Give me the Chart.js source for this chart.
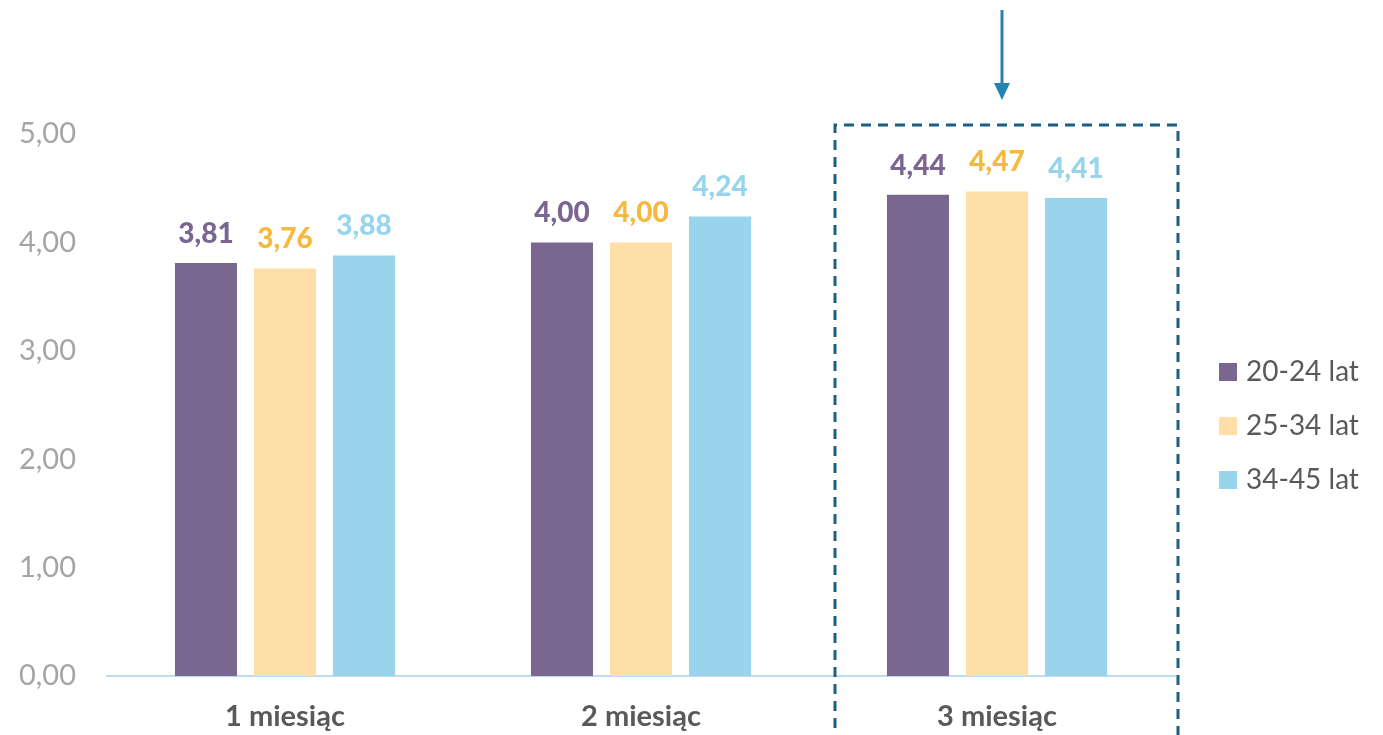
<!DOCTYPE html>
<html>
<head>
<meta charset="utf-8">
<script src="https://cdn.jsdelivr.net/npm/chart.js@4"></script>
<style>
  html, body { margin: 0; padding: 0; background: #fff; }
  #wrap { width: 1383px; height: 735px; position: relative; }
</style>
</head>
<body>
<div id="wrap"><canvas id="chart"></canvas></div>
<script>
// Chart data
const categories = ['1 miesiąc', '2 miesiąc', '3 miesiąc'];
const seriesNames = ['20-24 lat', '25-34 lat', '34-45 lat'];
const age20to24 = [3.81, 4.00, 4.44];
const age25to34 = [3.76, 4.00, 4.47];
const age34to45 = [3.88, 4.24, 4.41];
const yTicks = [0, 1, 2, 3, 4, 5];

const FONT = 'Lato, "Open Sans", sans-serif';
const barColors = ['#79678f', '#fddfa7', '#98d4ec'];
const labelColors = ['#7a6690', '#f5b940', '#98d4ec'];
const fmt = v => v.toFixed(2).replace('.', ',');

// Value labels above bars
const valueLabels = {
    id: 'valueLabels',
    afterDatasetsDraw(chart) {
        const ctx = chart.ctx;
        ctx.save();
        ctx.font = '900 28px ' + FONT;
        ctx.textAlign = 'center';
        ctx.textBaseline = 'alphabetic';
        chart.data.datasets.forEach((ds, i) => {
            chart.getDatasetMeta(i).data.forEach((bar, j) => {
                ctx.fillStyle = labelColors[i];
                ctx.fillText(fmt(ds.data[j]), bar.x, bar.y - 20);
            });
        });
        ctx.restore();
    }
};

// Highlight box around the last category, arrow and legend
const extras = {
    id: 'extras',
    afterDraw(chart) {
        const ctx = chart.ctx;
        const x = chart.scales.x;
        const cx = x.getPixelForValue(categories.length - 1);
        ctx.save();

        // dashed box
        ctx.strokeStyle = '#1d5f7e';
        ctx.lineWidth = 3;
        ctx.setLineDash([10, 7]);
        ctx.beginPath();
        ctx.moveTo(cx - 162, 745);
        ctx.lineTo(cx - 162, 125);
        ctx.lineTo(cx + 181, 125);
        ctx.lineTo(cx + 181, 745);
        ctx.stroke();
        ctx.setLineDash([]);

        // arrow
        const ax = cx + 5;
        ctx.strokeStyle = '#2583b0';
        ctx.fillStyle = '#2583b0';
        ctx.lineWidth = 3;
        ctx.beginPath();
        ctx.moveTo(ax, 10);
        ctx.lineTo(ax, 88);
        ctx.stroke();
        ctx.beginPath();
        ctx.moveTo(ax - 8, 83);
        ctx.lineTo(ax + 8, 83);
        ctx.lineTo(ax, 100);
        ctx.closePath();
        ctx.fill();

        // legend
        ctx.font = '28px ' + FONT;
        ctx.textAlign = 'left';
        ctx.textBaseline = 'middle';
        chart.data.datasets.forEach((ds, i) => {
            const y = 372 + i * 54;
            ctx.fillStyle = ds.backgroundColor;
            ctx.fillRect(1219, y - 9, 18, 18);
            ctx.fillStyle = '#595959';
            ctx.fillText(ds.label, 1246, y);
        });
        ctx.restore();
    }
};

new Chart(document.getElementById('chart'), {
    type: 'bar',
    data: {
        labels: categories,
        datasets: [
            { label: seriesNames[0], data: age20to24, backgroundColor: barColors[0] },
            { label: seriesNames[1], data: age25to34, backgroundColor: barColors[1] },
            { label: seriesNames[2], data: age34to45, backgroundColor: barColors[2] }
        ]
    },
    options: {
        responsive: true,
        maintainAspectRatio: false,
        animation: false,
        layout: { padding: { left: 0, right: 208, top: 134, bottom: 0 } },
        plugins: {
            legend: { display: false },
            tooltip: { enabled: false }
        },
        datasets: {
            bar: { categoryPercentage: 0.666, barPercentage: 0.785 }
        },
        scales: {
            y: {
                min: 0,
                max: 5,
                afterFit: s => { s.width = 107; },
                afterBuildTicks: s => { s.ticks = yTicks.map(v => ({ value: v })); },
                grid: { display: false, drawTicks: false },
                border: { display: false },
                ticks: {
                    padding: 31,
                    color: '#a5a5a5',
                    font: { family: FONT, size: 29 },
                    callback: v => fmt(v)
                }
            },
            x: {
                afterFit: s => { s.height = 59; },
                grid: { display: false, drawTicks: false },
                border: { display: true, color: '#bcdcf2', width: 2 },
                ticks: {
                    padding: 23,
                    color: '#595959',
                    font: { family: FONT, size: 29, weight: 'bold' }
                }
            }
        }
    },
    plugins: [valueLabels, extras]
});
</script>
</body>
</html>
